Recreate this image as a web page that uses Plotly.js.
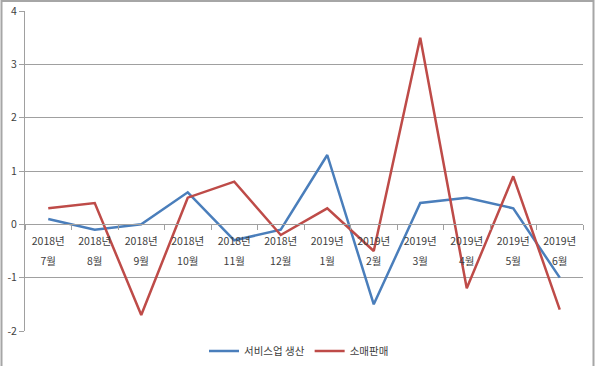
<!DOCTYPE html>
<html>
<head>
<meta charset="utf-8">
<script src="https://cdn.plot.ly/plotly-3.0.1.min.js"></script>
<style>html,body{margin:0;padding:0;background:#fff;}#chart{width:601px;height:366px;}</style>
</head>
<body>
<div id="chart"></div>
<script>
var categories = ["2018-07","2018-08","2018-09","2018-10","2018-11","2018-12","2019-01","2019-02","2019-03","2019-04","2019-05","2019-06"];
var yearLabels = ["2018년","2018년","2018년","2018년","2018년","2018년","2019년","2019년","2019년","2019년","2019년","2019년"];
var monthLabels = ["7월","8월","9월","10월","11월","12월","1월","2월","3월","4월","5월","6월"];
var serviceName = "서비스업 생산";
var serviceValues = [0.1, -0.1, 0.0, 0.6, -0.3, -0.1, 1.3, -1.5, 0.4, 0.5, 0.3, -1.0];
var retailName = "소매판매";
var retailValues = [0.3, 0.4, -1.7, 0.5, 0.8, -0.2, 0.3, -0.5, 3.5, -1.2, 0.9, -1.6];
var yTicks = [-2, -1, 0, 1, 2, 3, 4];

var FONT = '"Noto Sans CJK KR", "Noto Sans", sans-serif';
var yMin = -2, yMax = 4;
var zeroPos = (0 - yMin) / (yMax - yMin);
var xRange = [-0.5, categories.length - 0.5];

var traces = [
  {x: categories, y: serviceValues, name: serviceName, type: 'scatter', mode: 'lines',
   line: {color: '#4a7ebb', width: 2.5}, xaxis: 'x', yaxis: 'y'},
  {x: categories, y: retailValues, name: retailName, type: 'scatter', mode: 'lines',
   line: {color: '#be4b48', width: 2.5}, xaxis: 'x', yaxis: 'y'},
  {x: categories, y: categories.map(function(){return null;}), showlegend: false,
   hoverinfo: 'skip', xaxis: 'x2', yaxis: 'y', type: 'scatter', mode: 'lines'}
];

var layout = {
  width: 601, height: 366,
  margin: {l: 25, r: 18, t: 11, b: 35, autoexpand: false},
  paper_bgcolor: '#ffffff', plot_bgcolor: '#ffffff',
  font: {family: FONT, size: 11, color: '#404040'},
  showlegend: true,
  legend: {orientation: 'h', x: (204 - 25) / 558, xanchor: 'left', y: (331 - 351) / 320, yanchor: 'middle',
           font: {family: FONT, size: 10.5, color: '#404040'}, bgcolor: 'rgba(0,0,0,0)', itemwidth: 30},
  xaxis: {
    type: 'category', categoryorder: 'array', categoryarray: categories, range: xRange, autorange: false,
    tickmode: 'array', tickvals: categories, ticktext: yearLabels,
    anchor: 'free', position: zeroPos, automargin: false,
    showline: true, linecolor: '#a0a0a0', linewidth: 1,
    ticks: 'outside', ticklen: 5, tickcolor: '#a0a0a0', tickson: 'boundaries',
    showgrid: false, zeroline: false, ticklabelstandoff: 7,
    tickfont: {family: FONT, size: 10.5, color: '#404040'}, fixedrange: true
  },
  xaxis2: {
    type: 'category', categoryorder: 'array', categoryarray: categories, range: xRange, autorange: false,
    tickmode: 'array', tickvals: categories, ticktext: monthLabels,
    overlaying: 'x', anchor: 'free', position: zeroPos, side: 'bottom', automargin: false,
    showline: false, ticks: '', showgrid: false, zeroline: false, ticklabelstandoff: 29,
    tickfont: {family: FONT, size: 10.5, color: '#404040'}, fixedrange: true
  },
  yaxis: {
    range: [yMin, yMax], autorange: false, tickmode: 'array', tickvals: yTicks, ticktext: yTicks.map(String),
    showgrid: true, gridcolor: '#a0a0a0', gridwidth: 1, zeroline: false, automargin: false,
    showline: true, linecolor: '#a0a0a0', linewidth: 1,
    ticks: 'outside', ticklen: 5, tickcolor: '#a0a0a0',
    tickfont: {family: FONT, size: 10.5, color: '#404040'}, fixedrange: true
  },
  shapes: [
    {type: 'rect', xref: 'paper', yref: 'paper',
     x0: (1.5 - 25) / 558, x1: (593.5 - 25) / 558, y0: (331 - 372) / 320, y1: (331 - 1) / 320,
     line: {color: '#a6a6a6', width: 2}, fillcolor: 'rgba(0,0,0,0)', layer: 'below'}
  ]
};

Plotly.newPlot('chart', traces, layout, {displayModeBar: false, staticPlot: true});
</script>
</body>
</html>
